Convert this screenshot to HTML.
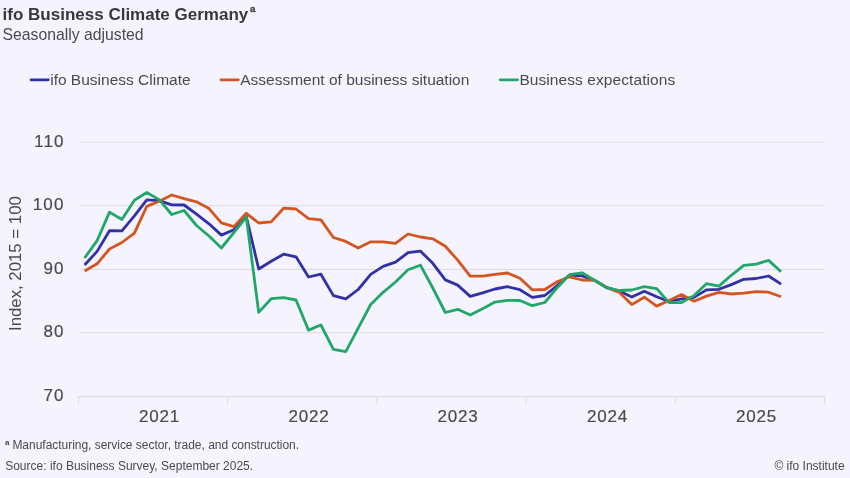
<!DOCTYPE html>
<html><head><meta charset="utf-8"><style>
html,body{margin:0;padding:0;background:#f4f3fe;}
body{width:850px;height:478px;overflow:hidden;}
svg{display:block;}
svg{will-change:transform;}
text{font-family:"Liberation Sans",Arial,sans-serif;}
.title{font-size:17px;font-weight:bold;fill:#38373e;}
.sup{font-size:9.6px;font-weight:bold;fill:#38373e;stroke:#38373e;stroke-width:0.35px;}
.sub{font-size:15.75px;fill:#4a4a50;}
.leg{font-size:15.5px;fill:#4a4a50;}
.tick{font-size:17px;fill:#4a4a50;letter-spacing:0.8px;stroke:#4a4a50;stroke-width:0.2px;}
.ytick{font-size:17px;fill:#4a4a50;letter-spacing:1.2px;stroke:#4a4a50;stroke-width:0.2px;}
.ytitle{font-size:16.8px;fill:#4a4a50;}
.foot{font-size:12px;fill:#4a4a50;}
.supf{font-size:8px;font-weight:bold;fill:#4a4a50;}
</style></head><body>
<svg width="850" height="478" viewBox="0 0 850 478">
<rect width="850" height="478" fill="#f4f3fe"/>
<line x1="79" y1="142.1" x2="824" y2="142.1" stroke="#dcdce1" stroke-width="1"/>
<line x1="79" y1="205.7" x2="824" y2="205.7" stroke="#dcdce1" stroke-width="1"/>
<line x1="79" y1="269.5" x2="824" y2="269.5" stroke="#dcdce1" stroke-width="1"/>
<line x1="79" y1="332.7" x2="824" y2="332.7" stroke="#dcdce1" stroke-width="1"/>
<line x1="77.9" y1="396.6" x2="825.1" y2="396.6" stroke="#dcdce1" stroke-width="1.3"/>
<line x1="78.4" y1="396.6" x2="78.4" y2="404" stroke="#dcdce1" stroke-width="1"/>
<line x1="227.6" y1="396.6" x2="227.6" y2="404" stroke="#dcdce1" stroke-width="1"/>
<line x1="376.9" y1="396.6" x2="376.9" y2="404" stroke="#dcdce1" stroke-width="1"/>
<line x1="526.1" y1="396.6" x2="526.1" y2="404" stroke="#dcdce1" stroke-width="1"/>
<line x1="675.4" y1="396.6" x2="675.4" y2="404" stroke="#dcdce1" stroke-width="1"/>
<line x1="824.6" y1="396.6" x2="824.6" y2="404" stroke="#dcdce1" stroke-width="1"/>
<text x="64.7" y="146.8" text-anchor="end" class="ytick">110</text>
<text x="64.7" y="210.4" text-anchor="end" class="ytick">100</text>
<text x="64.7" y="274.2" text-anchor="end" class="ytick">90</text>
<text x="64.7" y="337.4" text-anchor="end" class="ytick">80</text>
<text x="64.7" y="401.3" text-anchor="end" class="ytick">70</text>
<text x="159.6" y="422.4" text-anchor="middle" class="tick">2021</text>
<text x="308.9" y="422.4" text-anchor="middle" class="tick">2022</text>
<text x="458.1" y="422.4" text-anchor="middle" class="tick">2023</text>
<text x="607.4" y="422.4" text-anchor="middle" class="tick">2024</text>
<text x="756.6" y="422.4" text-anchor="middle" class="tick">2025</text>
<text transform="translate(20.7,263.6) rotate(-90)" text-anchor="middle" class="ytitle">Index, 2015 = 100</text>
<polyline points="84.6,265.0 97.1,251.4 109.5,230.7 121.9,230.8 134.4,215.8 146.8,199.8 159.2,200.6 171.7,204.9 184.1,205.0 196.5,214.1 209.0,223.8 221.4,235.1 233.9,229.8 246.3,216.5 258.7,269.0 271.2,261.3 283.6,254.2 296.0,256.8 308.5,277.0 320.9,274.2 333.4,295.6 345.8,298.9 358.2,289.5 370.7,274.4 383.1,266.3 395.5,262.1 408.0,252.7 420.4,251.1 432.8,263.3 445.3,279.9 457.7,285.1 470.2,296.4 482.6,292.9 495.0,289.0 507.5,286.7 519.9,289.7 532.3,297.4 544.8,295.5 557.2,285.5 569.6,275.2 582.1,275.9 594.5,280.2 607.0,287.7 619.4,291.1 631.8,297.0 644.3,291.2 656.7,296.7 669.1,301.5 681.6,298.8 694.0,297.4 706.5,289.9 718.9,289.3 731.3,284.6 743.8,279.3 756.2,278.5 768.6,276.0 781.1,284.2" fill="none" stroke="#3230a8" stroke-width="2.8" stroke-linejoin="round" stroke-linecap="butt"/>
<polyline points="84.6,271.0 97.1,263.8 109.5,249.0 121.9,242.5 134.4,233.1 146.8,206.4 159.2,201.2 171.7,195.0 184.1,198.7 196.5,201.8 209.0,208.6 221.4,222.8 233.9,226.6 246.3,213.3 258.7,223.0 271.2,221.9 283.6,208.2 296.0,209.0 308.5,218.6 320.9,219.9 333.4,237.5 345.8,241.4 358.2,248.0 370.7,241.8 383.1,241.8 395.5,243.3 408.0,234.0 420.4,237.0 432.8,238.8 445.3,246.3 457.7,260.1 470.2,276.1 482.6,276.1 495.0,274.3 507.5,273.0 519.9,278.2 532.3,289.8 544.8,289.5 557.2,281.7 569.6,276.8 582.1,280.0 594.5,280.3 607.0,287.7 619.4,292.4 631.8,304.6 644.3,297.2 656.7,306.1 669.1,300.5 681.6,294.6 694.0,301.2 706.5,296.1 718.9,292.4 731.3,294.0 743.8,293.2 756.2,291.7 768.6,292.2 781.1,296.8" fill="none" stroke="#d4551f" stroke-width="2.8" stroke-linejoin="round" stroke-linecap="butt"/>
<polyline points="84.6,258.0 97.1,240.6 109.5,212.1 121.9,219.5 134.4,200.3 146.8,192.5 159.2,199.6 171.7,214.5 184.1,210.5 196.5,225.5 209.0,236.0 221.4,248.0 233.9,232.5 246.3,217.1 258.7,312.4 271.2,298.7 283.6,297.7 296.0,300.0 308.5,330.1 320.9,325.0 333.4,349.4 345.8,351.6 358.2,328.1 370.7,304.5 383.1,292.3 395.5,282.0 408.0,269.8 420.4,265.2 432.8,288.0 445.3,312.5 457.7,309.3 470.2,315.0 482.6,308.7 495.0,302.1 507.5,300.3 519.9,300.5 532.3,305.7 544.8,302.5 557.2,287.7 569.6,274.6 582.1,272.8 594.5,280.2 607.0,287.9 619.4,290.5 631.8,290.0 644.3,286.6 656.7,288.6 669.1,302.6 681.6,302.5 694.0,295.6 706.5,283.7 718.9,286.1 731.3,275.3 743.8,265.4 756.2,264.1 768.6,260.4 781.1,271.7" fill="none" stroke="#21a767" stroke-width="2.8" stroke-linejoin="round" stroke-linecap="butt"/>
<line x1="31.0" y1="79.8" x2="48.3" y2="79.8" stroke="#3230a8" stroke-width="2.8" stroke-linecap="round"/>
<text x="50.2" y="84.6" class="leg">ifo Business Climate</text>
<line x1="221.0" y1="79.8" x2="238.3" y2="79.8" stroke="#d4551f" stroke-width="2.8" stroke-linecap="round"/>
<text x="240.2" y="84.6" class="leg">Assessment of business situation</text>
<line x1="500.2" y1="79.8" x2="517.5" y2="79.8" stroke="#21a767" stroke-width="2.8" stroke-linecap="round"/>
<text x="519.4" y="84.6" class="leg" textLength="155.8">Business expectations</text>
<text x="2.6" y="19.7" class="title">ifo Business Climate Germany</text>
<text x="249.9" y="11.9" class="sup">a</text>
<text x="2.6" y="40.0" class="sub">Seasonally adjusted</text>
<text x="5" y="445" class="supf">a</text>
<text x="12.4" y="449.4" class="foot" textLength="286.7">Manufacturing, service sector, trade, and construction.</text>
<text x="5.2" y="469.6" class="foot">Source: ifo Business Survey, September 2025.</text>
<text x="844.6" y="469.8" text-anchor="end" class="foot">© ifo Institute</text>
</svg>
</body></html>
